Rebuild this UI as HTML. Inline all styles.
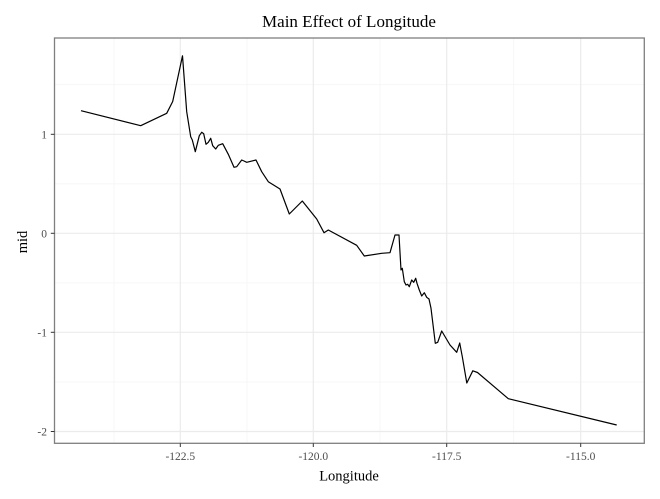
<!DOCTYPE html>
<html><head><meta charset="utf-8"><style>
html,body{margin:0;padding:0;background:#fff;}
svg{display:block;}
</style></head><body>
<svg width="660" height="499" viewBox="0 0 660 499" xmlns="http://www.w3.org/2000/svg" font-family="Liberation Serif, serif">
<rect width="660" height="499" fill="#fff"/>
<!-- minor grid -->
<g stroke="#f5f5f5" stroke-width="0.8">
<line x1="114" y1="38" x2="114" y2="443"/>
<line x1="247" y1="38" x2="247" y2="443"/>
<line x1="380" y1="38" x2="380" y2="443"/>
<line x1="513.7" y1="38" x2="513.7" y2="443"/>
<line x1="54.5" y1="84.7" x2="644.3" y2="84.7"/>
<line x1="54.5" y1="183.8" x2="644.3" y2="183.8"/>
<line x1="54.5" y1="282.9" x2="644.3" y2="282.9"/>
<line x1="54.5" y1="382" x2="644.3" y2="382"/>
</g>
<!-- major grid -->
<g stroke="#ebebeb" stroke-width="1.2">
<line x1="180.3" y1="38" x2="180.3" y2="443"/>
<line x1="313.3" y1="38" x2="313.3" y2="443"/>
<line x1="446.7" y1="38" x2="446.7" y2="443"/>
<line x1="580.7" y1="38" x2="580.7" y2="443"/>
<line x1="54.5" y1="134.3" x2="644.3" y2="134.3"/>
<line x1="54.5" y1="233.3" x2="644.3" y2="233.3"/>
<line x1="54.5" y1="332.3" x2="644.3" y2="332.3"/>
<line x1="54.5" y1="431.5" x2="644.3" y2="431.5"/>
</g>
<!-- data line -->
<polyline fill="none" stroke="#000" stroke-width="1.2" stroke-linejoin="round" points="
81,110.7 140.7,125.7 166.7,113.3 172.7,101.5 182.5,55.8 186.7,111.7 190.7,136.7 192.3,140 195.3,151.7 199.3,135.7 201.7,132.3 203.7,133.7 206,144.3 208.3,142.3 210.7,138.3 212.7,145.7 215.7,149 218.3,145.3 222.7,143.7 228.3,154.3 234,167.3 236.7,166.7 241.7,160 244,161 246.7,162.3 256,160 261.7,171.7 268.3,181.7 280,189 289.3,214 302.3,201 316.7,219 324,232.7 328.3,230 356.7,245.3 364.3,256 381.7,253.3 390,252.7 395,235 399,235 401,270 402.3,268.3 404.3,281.7 406,285 407.7,284.3 409.3,286.7 411.7,280 413.7,282.3 415.7,278.3 417,283.3 419.3,290 421.7,296 424.3,292.7 426.7,297.3 429,299 431,308.3 435.3,343.3 437.7,342.3 441.7,331 450,345 456.7,352.3 459.7,343 462.3,356.7 466.8,383 472.8,370.8 477.5,372.5 508.3,398.7 616.7,425"/>
<!-- panel border -->
<rect x="54.5" y="38" width="589.8" height="405.3" fill="none" stroke="#7f7f7f" stroke-width="1.3"/>
<!-- ticks -->
<g stroke="#333" stroke-width="1">
<line x1="180.3" y1="443.3" x2="180.3" y2="447"/>
<line x1="313.3" y1="443.3" x2="313.3" y2="447"/>
<line x1="446.7" y1="443.3" x2="446.7" y2="447"/>
<line x1="580.7" y1="443.3" x2="580.7" y2="447"/>
<line x1="50.8" y1="134.3" x2="54.5" y2="134.3"/>
<line x1="50.8" y1="233.3" x2="54.5" y2="233.3"/>
<line x1="50.8" y1="332.3" x2="54.5" y2="332.3"/>
<line x1="50.8" y1="431.5" x2="54.5" y2="431.5"/>
</g>
<!-- tick labels -->
<g fill="#4d4d4d" font-size="11.5" text-anchor="middle">
<text x="180.3" y="460">-122.5</text>
<text x="313.3" y="460">-120.0</text>
<text x="446.7" y="460">-117.5</text>
<text x="580.7" y="460">-115.0</text>
</g>
<g fill="#4d4d4d" font-size="11.5" text-anchor="end">
<text x="47" y="138.3">1</text>
<text x="47" y="237.3">0</text>
<text x="47" y="336.3">-1</text>
<text x="47" y="435.5">-2</text>
</g>
<!-- axis titles -->
<text x="349" y="480.5" font-size="14.5" text-anchor="middle" fill="#000">Longitude</text>
<text transform="translate(27,242) rotate(-90)" font-size="14.5" text-anchor="middle" fill="#000">mid</text>
<text x="349" y="27" font-size="17" text-anchor="middle" fill="#000">Main Effect of Longitude</text>
</svg>
</body></html>
